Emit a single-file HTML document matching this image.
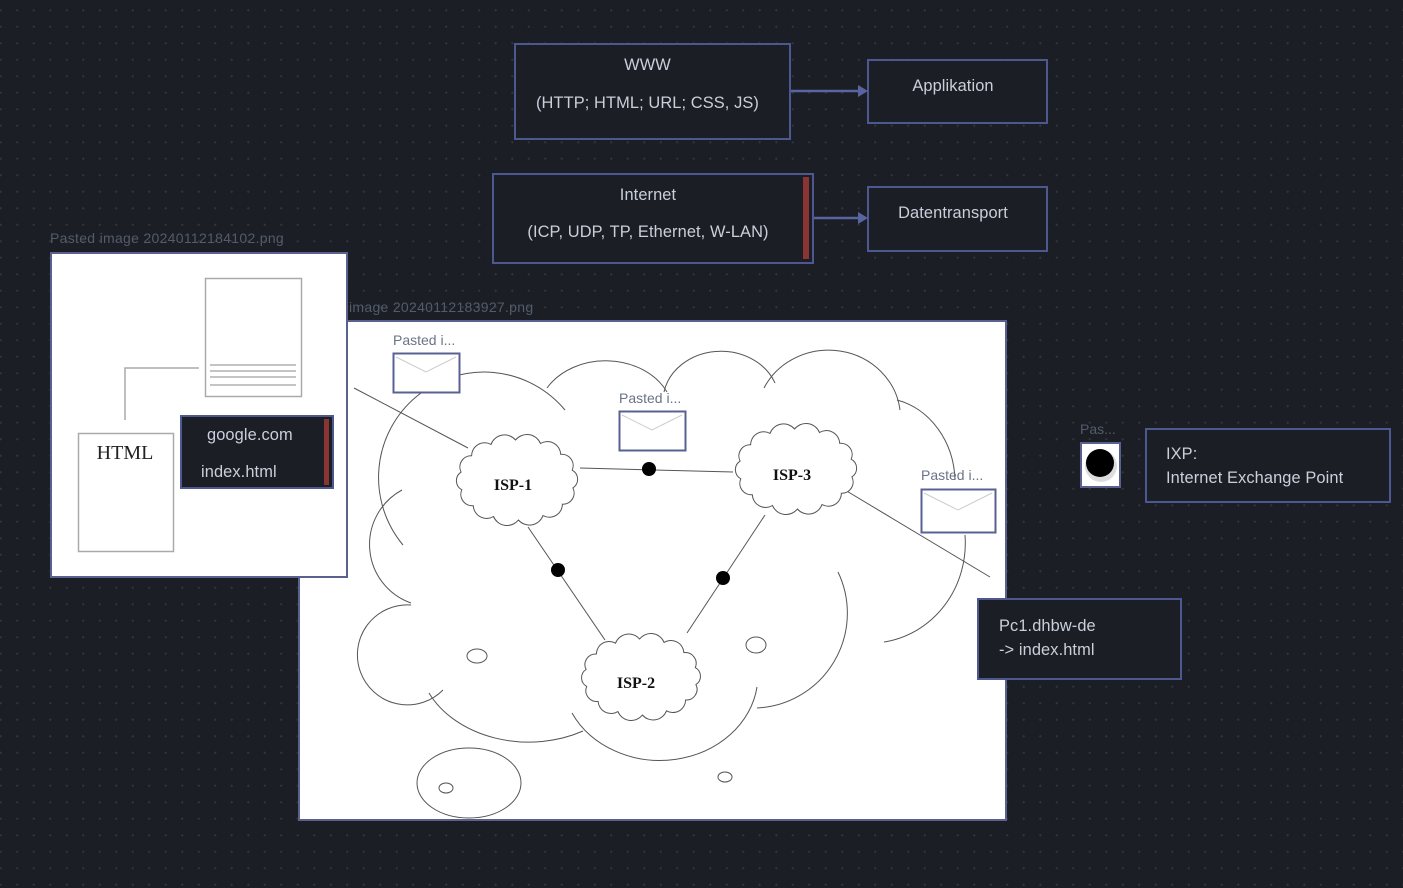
<!DOCTYPE html>
<html><head><meta charset="utf-8">
<style>
html,body{margin:0;padding:0}
body{width:1403px;height:888px;overflow:hidden;position:relative;background-color:#1b1e24;
background-image:radial-gradient(circle,#30343d 1px,transparent 1.2px);background-size:16.5px 16.5px;background-position:9px 2px;
font-family:"Liberation Sans",sans-serif;color:#c9cfdb}
.box{position:absolute;box-sizing:border-box;border:2px solid #4d5790;background:#1b1e24}
.t{position:absolute;font-size:16.4px;white-space:nowrap;letter-spacing:0.1px}
.lbl{position:absolute;font-size:14px;color:#535c6c;white-space:nowrap;letter-spacing:0.3px}
.red{position:absolute;background:#8a3434}
</style></head><body>

<div class="box" style="left:514px;top:43px;width:277px;height:97px"></div>
<div class="t" style="left:514px;width:267px;text-align:center;top:56px">WWW</div>
<div class="t" style="left:514px;width:267px;text-align:center;top:94px">(HTTP; HTML; URL; CSS, JS)</div>
<div class="box" style="left:867px;top:59px;width:181px;height:65px"></div>
<div class="t" style="left:867px;width:172px;text-align:center;top:77px">Applikation</div>

<div class="box" style="left:492px;top:173px;width:322px;height:91px"></div>
<div class="red" style="left:803px;top:177px;width:6px;height:82px"></div>
<div class="t" style="left:493px;width:310px;text-align:center;top:186px">Internet</div>
<div class="t" style="left:493px;width:310px;text-align:center;top:223px">(ICP, UDP, TP, Ethernet, W-LAN)</div>
<div class="box" style="left:867px;top:186px;width:181px;height:66px"></div>
<div class="t" style="left:867px;width:172px;text-align:center;top:204px">Datentransport</div>

<svg style="position:absolute;left:0;top:0" width="1403" height="888">
<line x1="791" y1="91" x2="860" y2="91" stroke="#5a64a0" stroke-width="2.5"/>
<polygon points="858,85 868,91 858,97" fill="#5a64a0"/>
<line x1="814" y1="218" x2="860" y2="218" stroke="#5a64a0" stroke-width="2.5"/>
<polygon points="858,212 868,218 858,224" fill="#5a64a0"/>
</svg>

<div class="lbl" style="left:349px;top:299px">image 20240112183927.png</div>
<div class="lbl" style="left:50px;top:230px">Pasted image 20240112184102.png</div>

<div style="position:absolute;left:298px;top:320px;width:709px;height:501px;box-sizing:border-box;border:2px solid #5a6090;background:#fff"></div>
<svg id="net" style="position:absolute;left:0;top:0" width="1403" height="888">
<g fill="none" stroke="#555" stroke-width="1">
<path d="M403,545 A95,95 0 0 1 565,410"/>
<path d="M547,388 A68,55 0 0 1 667,392"/>
<path d="M664,392 A58,50 0 0 1 775,383"/>
<path d="M764,388 A72,68 0 0 1 900,410"/>
<path d="M897,400 A75,85 0 0 1 955,480"/>
<path d="M965,535 A95,100 0 0 1 884,642"/>
<path d="M838,572 A95,95 0 0 1 757,708"/>
<path d="M572,713 A98,85 0 0 0 757,687"/>
<path d="M429,693 A110,85 0 0 0 583,731"/>
<path d="M411,605 A50,50 0 1 0 443,690"/>
<path d="M402,490 A62,62 0 0 0 411,603"/>
<ellipse cx="477" cy="656" rx="10" ry="7"/>
<ellipse cx="756" cy="645" rx="10" ry="8"/>
<ellipse cx="725" cy="777" rx="7" ry="5"/>
<ellipse cx="469" cy="783" rx="52" ry="35"/>
<ellipse cx="446" cy="788" rx="7" ry="5"/>
<line x1="354" y1="388" x2="468" y2="448"/>
<line x1="845" y1="490" x2="990" y2="577"/>
<line x1="580" y1="468" x2="733" y2="472"/>
<line x1="528" y1="527" x2="605" y2="640"/>
<line x1="765" y1="515" x2="687" y2="633"/>
</g>
<g id="clouds" fill="#fff" stroke="#555" stroke-width="1"></g>
<g fill="#000"><circle cx="649" cy="469" r="7"/><circle cx="558" cy="570" r="7"/><circle cx="723" cy="578" r="7"/></g>
<g font-family="Liberation Serif,serif" font-weight="bold" font-size="16" text-anchor="middle" fill="#111">
<text x="513" y="490">ISP-1</text><text x="792" y="480">ISP-3</text><text x="636" y="688">ISP-2</text>
</g>
<g>
<rect x="393.5" y="353.5" width="66" height="39" fill="#fff" stroke="#5a6090" stroke-width="2"/>
<polyline points="396,357 426,372 456,357" fill="none" stroke="#ccc"/>
<rect x="619.5" y="411.5" width="66" height="39" fill="#fff" stroke="#5a6090" stroke-width="2"/>
<polyline points="622,415 652,430 682,415" fill="none" stroke="#ccc"/>
<rect x="921.5" y="489.5" width="74" height="43" fill="#fff" stroke="#5a6090" stroke-width="2"/>
<polyline points="924,493 958,510 992,493" fill="none" stroke="#ccc"/>
</g>
<g font-family="Liberation Sans,sans-serif" font-size="14" fill="#6a7388">
<text x="393" y="345">Pasted i...</text><text x="619" y="403">Pasted i...</text><text x="921" y="480">Pasted i...</text>
<text x="1080" y="434" fill="#535c6c">Pas...</text>
</g>
</svg>

<div style="position:absolute;left:50px;top:252px;width:298px;height:326px;box-sizing:border-box;border:2px solid #5a6090;background:#fff"></div>
<svg style="position:absolute;left:0;top:0" width="1403" height="888">
<rect x="205.5" y="278.5" width="96" height="118" fill="#fff" stroke="#aaa" stroke-width="1.5"/>
<g stroke="#888"><line x1="210" y1="365" x2="296" y2="365"/><line x1="210" y1="371" x2="296" y2="371"/><line x1="210" y1="377" x2="296" y2="377"/><line x1="210" y1="385" x2="296" y2="385"/></g>
<polyline points="199,368 125,368 125,420" fill="none" stroke="#aaa" stroke-width="1.5"/>
<rect x="78.5" y="433.5" width="95" height="118" fill="#fff" stroke="#aaa" stroke-width="1.5"/>
<text x="125" y="459" text-anchor="middle" font-family="Liberation Serif,serif" font-size="20" fill="#222">HTML</text>
</svg>
<div class="box" style="left:180px;top:415px;width:154px;height:74px"></div>
<div class="red" style="left:324px;top:419px;width:5px;height:66px"></div>
<div class="t" style="left:207px;top:426px">google.com</div>
<div class="t" style="left:201px;top:463px">index.html</div>

<div style="position:absolute;left:1080px;top:442px;width:41px;height:46px;box-sizing:border-box;border:2px solid #5a6090;background:#fff"></div>
<svg style="position:absolute;left:0;top:0" width="1403" height="888">
<ellipse cx="1101" cy="466" rx="16" ry="16" fill="#ddd"/>
<circle cx="1100" cy="463" r="14" fill="#000"/>
</svg>
<div class="box" style="left:1145px;top:428px;width:246px;height:75px"></div>
<div class="t" style="left:1166px;top:445px">IXP:</div>
<div class="t" style="left:1166px;top:469px">Internet Exchange Point</div>
<div class="box" style="left:977px;top:598px;width:205px;height:82px"></div>
<div class="t" style="left:999px;top:617px">Pc1.dhbw-de</div>
<div class="t" style="left:999px;top:641px">-&gt; index.html</div>

<script>
(function(){
var g=document.getElementById('clouds');
function cloud(cx,cy,rx,ry,n){
  var pts=[];for(var i=0;i<n;i++){var a=i/n*2*Math.PI+0.2;pts.push([cx+rx*Math.cos(a),cy+ry*Math.sin(a)]);}
  var d='M'+pts[0][0].toFixed(1)+','+pts[0][1].toFixed(1);
  for(var i=1;i<=n;i++){var p=pts[i%n],q=pts[i-1];var r=Math.hypot(p[0]-q[0],p[1]-q[1])*0.58;
    d+=' A'+r.toFixed(1)+','+r.toFixed(1)+' 0 0 1 '+p[0].toFixed(1)+','+p[1].toFixed(1);}
  var e=document.createElementNS('http://www.w3.org/2000/svg','path');e.setAttribute('d',d+'Z');g.appendChild(e);
}
cloud(517,480,57,40,14);
cloud(796,469,57,40,14);
cloud(641,677,56,38,14);
})();
</script>
</body></html>
